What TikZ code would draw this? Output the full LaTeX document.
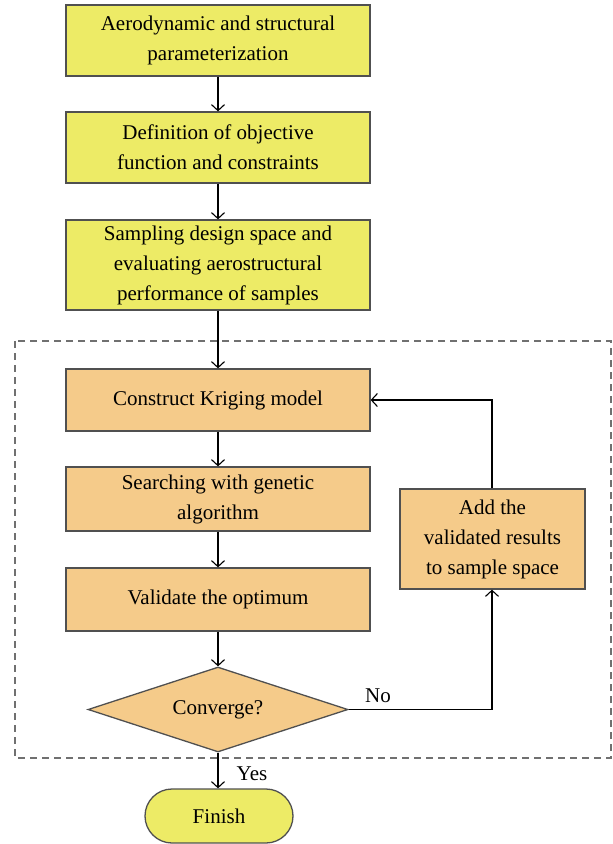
\documentclass[tikz,border=0pt]{standalone}
\usepackage{fontspec}
\setmainfont{Liberation Serif}
\usetikzlibrary{arrows.meta,shapes.geometric}
\definecolor{boxyellow}{HTML}{EDEB66}
\definecolor{boxorange}{HTML}{F5CB8A}
\definecolor{boxline}{HTML}{505050}
\definecolor{dashline}{HTML}{707070}
\begin{document}
\begin{tikzpicture}[x=1pt,y=-1pt,
  every node/.style={font=\fontsize{21}{30}\selectfont},
  ybox/.style={draw=boxline,line width=1.3pt,fill=boxyellow,minimum width=304pt,align=center,inner sep=0pt},
  obox/.style={draw=boxline,line width=1.3pt,fill=boxorange,minimum width=304pt,align=center,inner sep=0pt},
  conn/.style={draw=black,line width=1.1pt,-{Straight Barb[length=6pt,width=13pt,line width=1.1pt]}},
  lbl/.style={inner sep=0pt}]
\useasboundingbox (0,0) rectangle (613,844);
\node[ybox,minimum height=71pt] (b1) at (218,40.5) {Aerodynamic and structural\\parameterization};
\node[ybox,minimum height=71pt] (b2) at (218,147.5) {Definition of objective\\function and constraints};
\node[ybox,minimum height=90pt] (b3) at (218,265) {Sampling design space and\\evaluating aerostructural\\performance of samples};
\draw[dashline,line width=1.1pt,dash pattern=on 7pt off 5pt] (15,341) rectangle (611,758);
\node[obox,minimum height=62pt] (b4) at (218,400) {Construct Kriging model};
\node[obox,minimum height=64pt] (b5) at (218,499) {Searching with genetic\\algorithm};
\node[obox,minimum height=63pt] (b6) at (218,599.5) {Validate the optimum};
\node[draw=boxline,line width=1.3pt,fill=boxorange,diamond,aspect=3,inner sep=0pt,minimum width=260pt,minimum height=85pt] (d) at (218,709.5) {Converge?};
\node[draw=boxline,line width=1.3pt,fill=boxorange,minimum width=185pt,minimum height=100pt,align=center,inner sep=0pt] (b7) at (492.5,539) {Add the\\validated results\\to sample space};
\node[draw=boxline,line width=1.3pt,fill=boxyellow,minimum width=148pt,minimum height=54pt,rounded corners=27pt,inner sep=0pt] (fin) at (219,816) {Finish};
\coordinate (c1) at (492,400);
\coordinate (c2) at (492,709.5);
\draw[conn] (b1) -- (b2);
\draw[conn] (b2) -- (b3);
\draw[conn] (b3) -- (b4);
\draw[conn] (b4) -- (b5);
\draw[conn] (b5) -- (b6);
\draw[conn] (b6) -- (d);
\draw[conn] (d.south) -- (d.south |- fin.north);
\draw[conn] (b7.north -| c1) -- (c1) -- (b4.east);
\draw[conn] (d.east) -- (c2) -- (c2 |- b7.south);
\node[lbl] (no) at (378,696) {No};
\node[lbl] (yes) at (252,774) {Yes};
\end{tikzpicture}
\end{document}
